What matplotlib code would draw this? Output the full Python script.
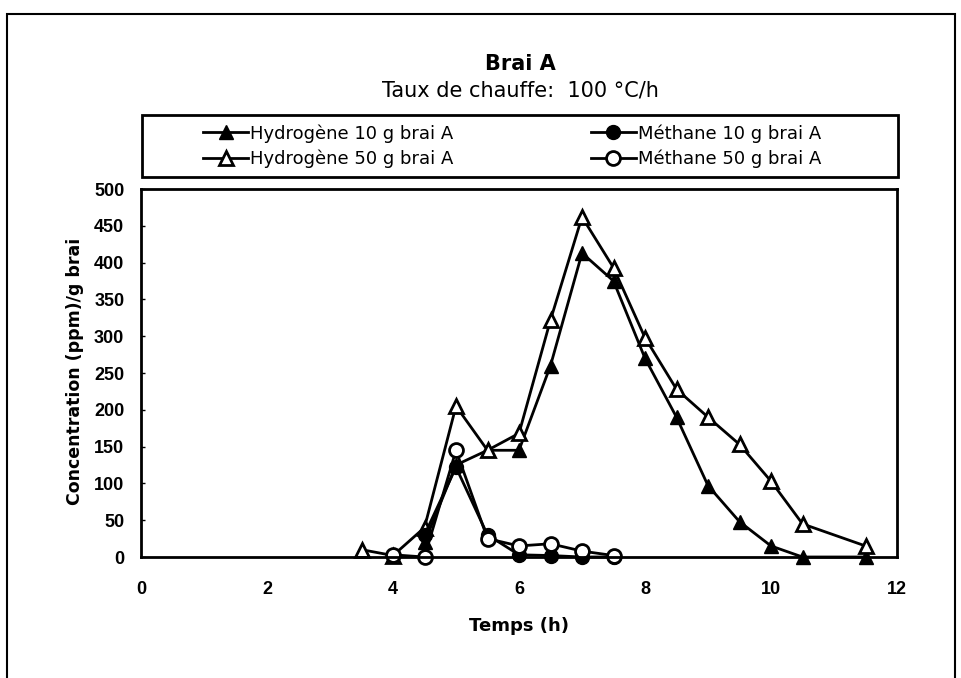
import matplotlib
matplotlib.use("Agg")
import matplotlib.pyplot as plt
from matplotlib.patches import Rectangle

plt.rcParams['font.family'] = ['DejaVu Sans']

# Data
h10_x = [4.5, 5.0, 5.5, 6.0, 6.5, 7.0, 7.5, 8.0, 8.5, 9.0, 9.5, 10.0, 10.5, 11.5]
h10_y = [20, 125, 145, 145, 260, 413, 375, 270, 190, 97, 48, 15, 0, 0]

h50_x = [3.5, 4.0, 4.5, 5.0, 5.5, 6.0, 6.5, 7.0, 7.5, 8.0, 8.5, 9.0, 9.5, 10.0, 10.5, 11.5]
h50_y = [10, 2, 40, 205, 145, 168, 322, 462, 393, 298, 228, 190, 153, 103, 45, 15]

m10_x = [4.5, 5.0, 5.5, 6.0, 6.5, 7.0, 7.5]
m10_y = [30, 122, 30, 3, 2, 0, 0]

m50_x = [4.0, 4.5, 5.0, 5.5, 6.0, 6.5, 7.0, 7.5]
m50_y = [3, 0, 145, 25, 15, 18, 8, 2]

labels = ["Hydrogène 10 g brai A", "Hydrogène 50 g brai A",
          "Méthane 10 g brai A", "Méthane 50 g brai A"]
x_ticks = [0, 2, 4, 6, 8, 10, 12]
y_ticks = [0, 50, 100, 150, 200, 250, 300, 350, 400, 450, 500]

W, H = 961, 678
fig = plt.figure(figsize=(W / 100, H / 100), dpi=100)

# outer frame
fig.patches.append(Rectangle((7 / W, -0.01), (955 - 7) / W, 1 - 14 / H + 0.01,
                             transform=fig.transFigure, fill=False,
                             edgecolor='black', linewidth=1.5))

AX_L, AX_R, AX_T, AX_B = 141, 897, 189, 557
ax = fig.add_axes([AX_L / W, 1 - AX_B / H, (AX_R - AX_L) / W, (AX_B - AX_T) / H])

lw = 2.0
l1, = ax.plot(h10_x, h10_y, color='black', lw=lw, marker='^', ms=10,
              mfc='black', mec='black', label=labels[0])
l2, = ax.plot(h50_x, h50_y, color='black', lw=lw, marker='^', ms=10,
              mfc='white', mec='black', mew=2.0, label=labels[1])
l3, = ax.plot(m10_x, m10_y, color='black', lw=lw, marker='o', ms=10,
              mfc='black', mec='black', label=labels[2])
l4, = ax.plot(m50_x, m50_y, color='black', lw=lw, marker='o', ms=10,
              mfc='white', mec='black', mew=2.0, label=labels[3])

ax.set_xlim(0, 12)
ax.set_ylim(0, 500)
ax.set_xticks(x_ticks)
ax.set_yticks(y_ticks)
ax.tick_params(axis='x', length=0, pad=17, labelsize=13)
ax.tick_params(axis='y', direction='in', length=3, width=1, pad=12, labelsize=13)
for lab in ax.get_xticklabels() + ax.get_yticklabels():
    lab.set_fontweight('bold')
    lab.set_fontfamily('Liberation Sans')
for s in ax.spines.values():
    s.set_linewidth(2.0)
for l in (l1, l2, l3, l4):
    l.set_clip_on(False)

ax.set_xlabel("Temps (h)", fontweight='bold', fontsize=13, va='center')
ax.xaxis.set_label_coords(0.5, (AX_B - 626) / (AX_B - AX_T))
ax.set_ylabel("Concentration (ppm)/g brai", fontweight='bold', fontsize=12.5,
              va='center')
ax.yaxis.set_label_coords((75 - AX_L) / (AX_R - AX_L), (AX_B - 371) / (AX_B - AX_T))

fig.text(520 / W, 1 - 64 / H, "Brai A", ha='center', va='center',
         fontweight='bold', fontsize=15)
fig.text(520 / W, 1 - 91 / H, "Taux de chauffe:  100 °C/h", ha='center',
         va='center', fontsize=15)

# legend frame
fig.patches.append(Rectangle((142 / W, 1 - 177 / H), (898 - 142) / W, (177 - 115) / H,
                             transform=fig.transFigure, fill=False,
                             edgecolor='black', linewidth=2.0))
leg = fig.legend(handles=[l1, l2, l3, l4], labels=labels, ncol=2,
                 loc='center', bbox_to_anchor=(512 / W, 1 - 146 / H),
                 frameon=False, fontsize=13, handlelength=2.5,
                 handletextpad=0.1, columnspacing=7.6, labelspacing=0.38,
                 borderaxespad=0, borderpad=0)

fig.savefig("out.png", dpi=100)
